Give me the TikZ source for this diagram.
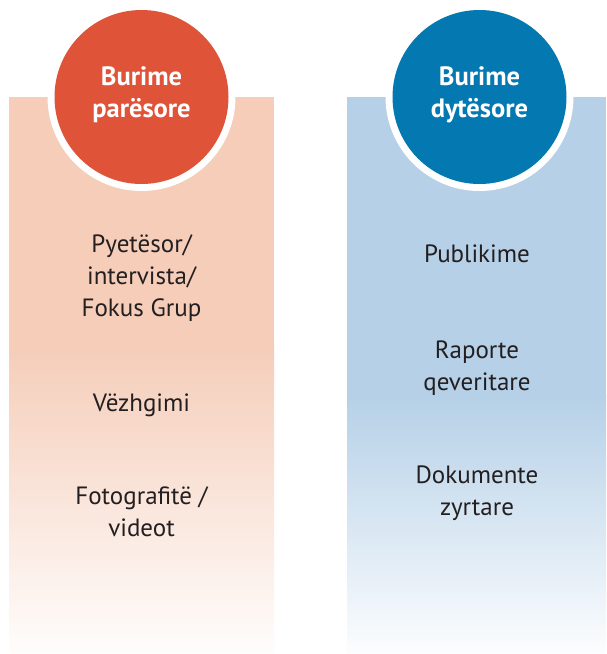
\documentclass[tikz,border=0pt]{standalone}
\usepackage{fontspec}
\setmainfont{PT Sans}
\definecolor{redc}{HTML}{DF5338}
\definecolor{bluec}{HTML}{0479B1}
\definecolor{peach}{HTML}{F5CDB9}
\definecolor{skyc}{HTML}{B5D0E7}
\definecolor{textc}{HTML}{231F20}
\tikzset{
  itemtxt/.style={text=textc, align=center, font=\fontsize{25}{32}\selectfont, inner sep=0pt},
  headtxt/.style={text=white, align=center, font=\bfseries\fontsize{26.5}{32}\selectfont, inner sep=0pt},
  ring/.style={circle, fill=white, minimum size=188pt, inner sep=0pt},
  disc/.style={circle, minimum size=174pt, inner sep=0pt}
}
\begin{document}
\begin{tikzpicture}[x=1pt,y=-1pt]
\useasboundingbox (0,0) rectangle (606,654);
% left panel
\fill[peach] (9,97) rectangle (274,345);
\shade[top color=peach, bottom color=peach!4!white] (9,344.5) rectangle (274,654);
% right panel
\fill[skyc] (347,97) rectangle (606,395);
\shade[top color=skyc, bottom color=skyc!4!white] (347,394.5) rectangle (606,654);
% circles
\node[ring] (lring) at (141.5,97) {};
\node[disc, fill=redc] (ldisc) at (141.5,97) {};
\node[ring] (rring) at (479.5,97) {};
\node[disc, fill=bluec] (rdisc) at (479.5,97) {};
\node[headtxt] (lhead) at (141.5,95) {Burime\\parësore};
\node[headtxt] (rhead) at (479.5,95) {Burime\\dytësore};
% left items
\node[itemtxt] (l1) at (141.5,278) {Pyetësor/\\intervista/\\Fokus Grup};
\node[itemtxt] (l2) at (141.5,405) {Vëzhgimi};
\node[itemtxt] (l3) at (141.5,512) {Fotografitë /\\videot};
% right items
\node[itemtxt] (r1) at (477,254) {Publikime};
\node[itemtxt] (r2) at (477,368) {Raporte\\qeveritare};
\node[itemtxt] (r3) at (477,493) {Dokumente\\zyrtare};
\end{tikzpicture}
\end{document}
